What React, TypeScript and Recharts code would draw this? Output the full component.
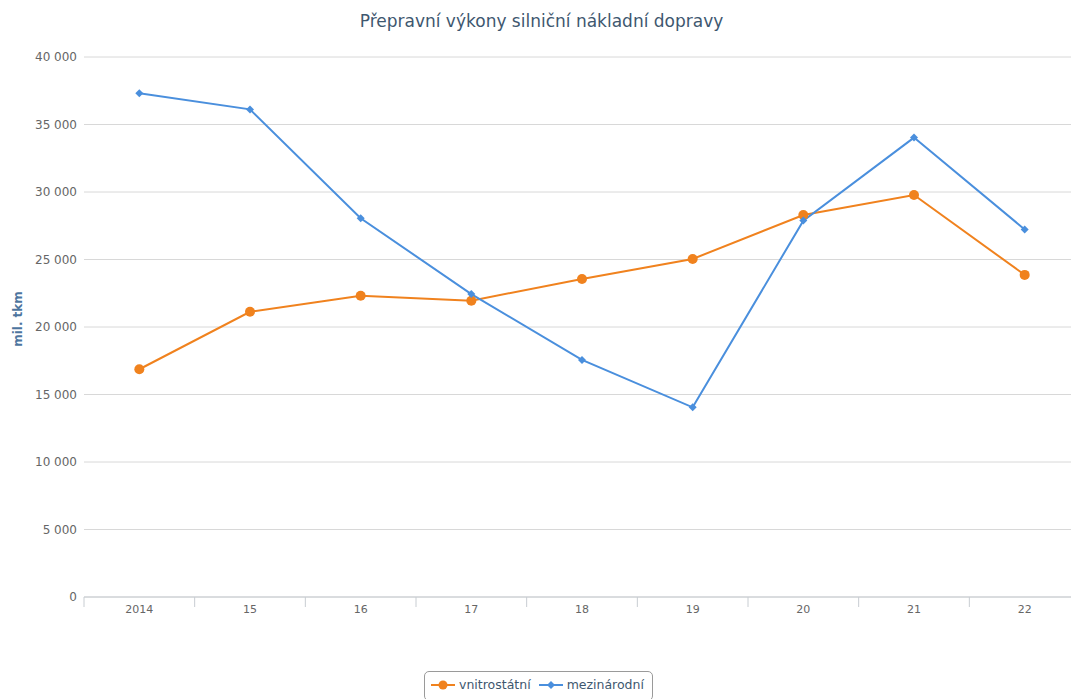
import { LineChart, Line, XAxis, YAxis, CartesianGrid, Legend } from "recharts";

const years = ["2014", "15", "16", "17", "18", "19", "20", "21", "22"];
const domestic = [16870, 21130, 22320, 21950, 23560, 25040, 28300, 29780, 23860];
const international = [37310, 36120, 28050, 22440, 17560, 14050, 27880, 34030, 27230];
const yTicks = [0, 5000, 10000, 15000, 20000, 25000, 30000, 35000, 40000];

const seriesNames = { domestic: "vnitrostátní", international: "mezinárodní" };
const ORANGE = "#f0821e";
const BLUE = "#4a8fdd";

const CHART_W = 1080;
const PLOT_LEFT = 84;
const PLOT_W = CHART_W - PLOT_LEFT;
const HALF_BAND = PLOT_W / years.length / 2;

const rows = years.map((year, i) => ({
    year,
    domestic: domestic[i],
    international: international[i],
}));

const fmt = (v: number) => v.toLocaleString("en-US").replace(/,/g, " ");

const XTick = (props: any) => {
    const { x, y, payload } = props;
    return (
        <g>
            <line x1={x - HALF_BAND} x2={x - HALF_BAND} y1={y} y2={y + 10} stroke="#c8cdd2" />
            <text x={x} y={y + 16} textAnchor="middle" fill="#666" fontSize={11} fontFamily="DejaVu Sans">
                {payload.value}
            </text>
        </g>
    );
};

const Diamond = (props: any) => {
    const { cx, cy } = props;
    if (cx == null || cy == null) return null;
    const r = 4;
    return <path d={`M${cx},${cy - r}L${cx + r},${cy}L${cx},${cy + r}L${cx - r},${cy}Z`} fill={BLUE} />;
};

const YTitle = (props: any) => {
    const { viewBox } = props;
    const cy = viewBox.y + viewBox.height / 2 - 8;
    return (
        <text
            x={18}
            y={cy}
            transform={`rotate(-90, 18, ${cy})`}
            textAnchor="middle"
            dominantBaseline="central"
            fill="#4d759e"
            fontWeight="bold"
            fontSize={12}
            fontFamily="DejaVu Sans"
        >
            mil. tkm
        </text>
    );
};

const LegendBox = () => (
    <div style={{ display: "flex", justifyContent: "center", paddingLeft: 6 }}>
        <div
            style={{
                border: "1px solid #9a9a9a",
                borderRadius: 5,
                padding: "5px 8px 8px 6px",
                display: "flex",
                gap: 8,
                background: "#fff",
                fontFamily: "DejaVu Sans",
                fontSize: 12.5,
                color: "#3e576f",
            }}
        >
            <span style={{ display: "flex", alignItems: "center", gap: 4 }}>
                <svg width={24} height={12}>
                    <line x1={0} x2={24} y1={6} y2={6} stroke={ORANGE} strokeWidth={2} />
                    <circle cx={12} cy={6} r={4.5} fill={ORANGE} />
                </svg>
                {seriesNames.domestic}
            </span>
            <span style={{ display: "flex", alignItems: "center", gap: 4 }}>
                <svg width={24} height={12}>
                    <line x1={0} x2={24} y1={6} y2={6} stroke={BLUE} strokeWidth={2} />
                    <path d="M12,2L16,6L12,10L8,6Z" fill={BLUE} />
                </svg>
                {seriesNames.international}
            </span>
        </div>
    </div>
);

export default function App() {
    return (
        <div style={{ position: "absolute", top: 0, left: 0, width: 1071, height: 699, overflow: "hidden", background: "#fff" }}>
            <div
                style={{
                    position: "absolute",
                    top: 11,
                    left: 6,
                    width: 1071,
                    textAlign: "center",
                    fontFamily: "DejaVu Sans",
                    fontSize: 17,
                    color: "#3e576f",
                    zIndex: 1,
                }}
            >
                Přepravní výkony silniční nákladní dopravy
            </div>
            <LineChart
                width={CHART_W}
                height={720}
                data={rows}
                margin={{ top: 57, right: 0, left: 10, bottom: 93 }}
            >
                <CartesianGrid vertical={false} stroke="#d8d8d8" />
                <XAxis
                    dataKey="year"
                    padding={{ left: HALF_BAND, right: HALF_BAND }}
                    tickLine={false}
                    tickSize={0}
                    tickMargin={0}
                    height={30}
                    stroke="#c8cdd2"
                    tick={<XTick />}
                    interval={0}
                />
                <YAxis
                    width={74}
                    domain={[0, 40000]}
                    ticks={yTicks}
                    tickFormatter={fmt}
                    axisLine={false}
                    tickLine={false}
                    tickSize={0}
                    tickMargin={7}
                    tick={{ fill: "#666", fontSize: 12, fontFamily: "DejaVu Sans" }}
                    label={<YTitle />}
                />
                <Legend
                    layout="horizontal"
                    verticalAlign="middle"
                    align="center"
                    wrapperStyle={{ top: 671, left: 0, width: 1071 }}
                    content={<LegendBox />}
                />
                <Line
                    dataKey="domestic"
                    name={seriesNames.domestic}
                    stroke={ORANGE}
                    strokeWidth={2}
                    dot={{ r: 5, fill: ORANGE, stroke: ORANGE, strokeWidth: 0 }}
                    isAnimationActive={false}
                />
                <Line
                    dataKey="international"
                    name={seriesNames.international}
                    stroke={BLUE}
                    strokeWidth={2}
                    dot={<Diamond />}
                    isAnimationActive={false}
                />
            </LineChart>
        </div>
    );
}
